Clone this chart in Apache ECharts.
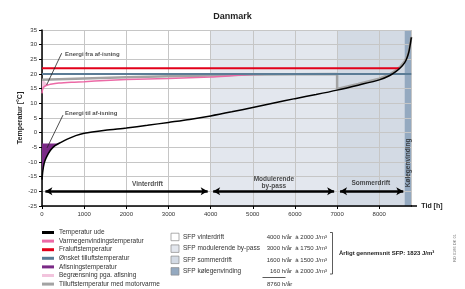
<!DOCTYPE html>
<html><head><meta charset="utf-8">
<script src="https://cdn.jsdelivr.net/npm/echarts@6/dist/echarts.min.js"></script>
<style>html,body{margin:0;padding:0;background:#fff}#c{width:465px;height:289px}</style>
</head><body><div id="c"></div>
<script>
// ---- data ----
const outHours = [0,20,50,100,200,300,450,600,800,1000,1500,2000,2500,3000,3500,4000,4500,5000,5500,6000,6500,7000,7500,8000,8250,8400,8500,8600,8650,8700,8740,8760];
const outTemp  = [-16,-13,-10.5,-8.5,-6,-4.5,-3.3,-2.2,-1,-0.2,0.8,1.6,2.5,3.5,4.5,5.7,7.1,8.6,10.1,11.6,13.0,14.5,16.2,18.0,19.5,20.9,22.1,23.8,25.2,27.4,30.5,32.5];
const pinkHours = [0,10,30,60,100,150,200,400,700,1000,1500,2000,3000,4000,4500,5000,5500,7000];
const pinkTemp  = [13.4,14.5,15.3,15.8,16.1,16.3,16.5,16.9,17.2,17.4,17.8,18.1,18.5,19.0,19.4,19.8,20.0,20.0];
const grayHours = [0,1000,2000,3000,4000,5000,6000,7000,7000,7500,8000,8250,8400,8500,8600,8650,8700,8740,8760];
const grayTemp  = [18,18.5,18.9,19.2,19.5,19.8,19.9,20.0,14.9,16.6,18.4,19.9,21.3,22.5,24.2,25.6,27.8,30.9,32.7];
const redHours = [0,8480];
const redTemp  = [22,22];
const blueHours = [0,8760];
const blueTemp  = [20,20];
const defrostHours = [0,20,50,100,200,300,420];
const defrostTemp  = [-16,-13,-10.5,-8.5,-6,-4.5,-3.7];
const defrostLevel = -3.7;
const limitHours = [0,50,100,150];
const limitTop   = [18,17.6,17.0,16.3];
const phaseStart = [4000,7000,8600];
const phaseEnd   = [7000,8600,8760];
const arrowStart = [80,4060,7070];
const arrowEnd   = [3930,6930,8570];
const phaseNames = ['Vinterdrift','Modulerende\nby-pass','Sommerdrift'];
const phaseLabelPos = [[2500,-17.5],[5500,-17.2],[7800,-17.3]];
const stripLabel = 'Kølegenvinding';
const stripLabelPos = [8680,-10.3];
const noteNames = ['Energi fra af-isning','Energi til af-isning'];
const notePos = [[545,26.8],[545,6.7]];
const leaderFrom = [[467,27.1],[498,6.0]];
const leaderTo = [[111,16.3],[119,-5.2]];
const legendLines = ['Temperatur ude','Varmegenvindingstemperatur','Fraluftstemperatur','Ønsket tilluftstemperatur','Afisningstemperatur','Begrænsning pga. afisning','Tilluftstemperatur med motorvarme'];
const sfpLabels = ['SFP vinterdrift','SFP modulerende by-pass','SFP sommerdrift','SFP kølegenvinding'];
const sfpHours = ['4000 h/år','3000 h/år','1600 h/år','160 h/år'];
const sfpValues = ['2000 J/m³','1750 J/m³','1500 J/m³','2000 J/m³'];
const totalHours = '8760 h/år';
const avgText = 'Årligt gennemsnit SFP: 1823 J/m³';

// ---- styles ----
const C = {black:'#000', pink:'#ec6aa6', red:'#e2001a', blue:'#5b7c96', purple:'#7a2a86', lpink:'#f2c4dd', gray:'#a3a3a3'};
const bgColors = ['#e3e7ee','#d3dae4','#94a9c0'];
const sfpColors = ['#ffffff','#e3e7ee','#d3dae4','#94a9c0'];
const FF = '"Liberation Sans", Arial, sans-serif';
const zip = (a,b)=>a.map((v,i)=>[v,b[i]]);

const chart = echarts.init(document.getElementById('c'), null, {renderer:'canvas'});

const graphic = [
  {type:'line', shape:{x1:411,y1:206,x2:417,y2:206}, style:{stroke:'#000', lineWidth:1.5}, z:10}
];
const rowY = [237, 248.7, 259.9, 271.4];
sfpLabels.forEach((t,i)=>{
  graphic.push({type:'rect', shape:{x:171,y:rowY[i]-3.8,width:8,height:7.5}, style:{fill:sfpColors[i], stroke:'#8a8a8a', lineWidth:0.7}});
  graphic.push({type:'text', x:183, y:rowY[i], style:{text:t, fill:'#333', font:'6.5px '+FF, verticalAlign:'middle'}});
  graphic.push({type:'text', x:327, y:rowY[i], style:{text:sfpHours[i]+'  à '+sfpValues[i], font:'6px '+FF, fill:'#333', align:'right', verticalAlign:'middle'}});
});
graphic.push({type:'polyline', shape:{points:[[330,232.5],[332.5,232.5],[332.5,274],[330,274]]}, style:{stroke:'#333', lineWidth:0.8, fill:null}});
graphic.push({type:'line', shape:{x1:262.5,y1:277.5,x2:285.5,y2:277.5}, style:{stroke:'#333', lineWidth:0.8}});
graphic.push({type:'text', x:267, y:284.5, style:{text:totalHours, font:'6px '+FF, fill:'#333', verticalAlign:'middle'}});
graphic.push({type:'text', x:339, y:253, style:{text:avgText, font:'bold 6px '+FF, fill:'#222', verticalAlign:'middle'}});
graphic.push({type:'text', x:455, y:248, rotation:Math.PI/2, style:{text:'RD 0186 DK 01', font:'4px '+FF, fill:'#777', align:'center', verticalAlign:'middle'}});

const labelData = phaseNames.map((n,i)=>({name:n, value:phaseLabelPos[i], label:{position:'inside'}}))
  .concat([{name:stripLabel, value:stripLabelPos, label:{position:'inside', rotate:90}}])
  .concat(noteNames.map((n,i)=>({name:n, value:notePos[i], label:{position:'right', distance:0, align:'left', fontSize:6}})));

const option = {
  animation:false,
  textStyle:{fontFamily:FF},
  title:{text:'Danmark', left:'center', top:7, textStyle:{fontSize:9, fontWeight:'bold', color:'#222', fontFamily:FF}},
  grid:{left:42, top:30, right:53.7, bottom:83},
  legend:{orient:'vertical', left:42, top:229, padding:0, itemWidth:12, itemHeight:3, itemGap:1.6, icon:'rect',
    textStyle:{fontSize:6.5, color:'#333', lineHeight:7, padding:0, fontFamily:FF}, data:legendLines, selectedMode:false},
  xAxis:{type:'value', min:0, max:8760, interval:1000, z:1,
    name:'Tid [h]', nameLocation:'end', nameGap:10, nameTextStyle:{fontSize:7, fontWeight:'bold', color:'#222', verticalAlign:'middle'},
    axisLine:{show:true, onZero:false, lineStyle:{color:'#000', width:1.5}},
    axisTick:{show:true, length:3, lineStyle:{color:'#000'}},
    axisLabel:{fontSize:6, color:'#333', margin:5, showMaxLabel:false, formatter:v=>String(v)},
    splitLine:{show:true, lineStyle:{color:'#c6c6c6', width:1}}},
  yAxis:{type:'value', min:-25, max:35, interval:5, z:1,
    name:'Temperatur [°C]', nameLocation:'middle', nameRotate:90, nameGap:18, nameMoveOverlap:false,
    nameTextStyle:{fontSize:7, fontWeight:'bold', color:'#222'},
    axisLine:{show:true, lineStyle:{color:'#000', width:1.5}},
    axisTick:{show:true, length:3, lineStyle:{color:'#000'}},
    axisLabel:{fontSize:6, color:'#333', margin:5},
    splitLine:{show:true, lineStyle:{color:'#c6c6c6', width:1}}},
  graphic,
  series:[
    {type:'custom', name:'bg', z:0, silent:true,
      data: phaseStart.map((s,i)=>[s, phaseEnd[i], -25, 35]),
      encode:{x:[0,1], y:[2,3]},
      renderItem:(params, api)=>{
        const p0 = api.coord([api.value(0), api.value(3)]);
        const p1 = api.coord([api.value(1), api.value(2)]);
        return {type:'rect', shape:{x:p0[0], y:p0[1], width:p1[0]-p0[0], height:p1[1]-p0[1]}, style:{fill:bgColors[params.dataIndex]}};
      }},
    {type:'custom', name:'Begrænsning pga. afisning', z:2, itemStyle:{color:C.lpink},
      data: zip(limitHours, limitTop), encode:{x:0, y:1},
      renderItem:(params, api)=>{
        if (params.dataIndex !== 0) return null;
        const top = zip(limitHours, limitTop);
        const low = zip(pinkHours, pinkTemp).filter(p=>p[0] <= limitHours[limitHours.length-1]).reverse();
        return {type:'polygon', shape:{points: top.concat(low).map(p=>api.coord(p))}, style:{fill:C.lpink}};
      }},
    {type:'custom', name:'Afisningstemperatur', z:2, itemStyle:{color:C.purple},
      data: zip(defrostHours, defrostTemp), encode:{x:0, y:1},
      renderItem:(params, api)=>{
        if (params.dataIndex !== 0) return null;
        const pts = zip(defrostHours, defrostTemp).concat([[defrostHours[0], defrostLevel]]);
        return {type:'polygon', shape:{points: pts.map(p=>api.coord(p))}, style:{fill:C.purple}};
      }},
    {type:'line', name:'Tilluftstemperatur med motorvarme', data:zip(grayHours, grayTemp), showSymbol:false, color:C.gray, lineStyle:{color:C.gray, width:2.5}},
    {type:'line', name:'Varmegenvindingstemperatur', data:zip(pinkHours, pinkTemp), showSymbol:false, smooth:0.3, color:C.pink, lineStyle:{color:C.pink, width:1.5}},
    {type:'line', name:'Ønsket tilluftstemperatur', data:zip(blueHours, blueTemp), showSymbol:false, color:C.blue, lineStyle:{color:C.blue, width:2}},
    {type:'line', name:'Fraluftstemperatur', data:zip(redHours, redTemp), showSymbol:false, color:C.red, lineStyle:{color:C.red, width:2}},
    {type:'line', name:'Temperatur ude', data:zip(outHours, outTemp), showSymbol:false, smooth:0.25, color:C.black, lineStyle:{color:C.black, width:1.5}},
    {type:'line', name:'arrows', data:[], silent:true,
      markLine:{silent:true, symbol:['arrow','arrow'], symbolSize:[6,7], label:{show:false},
        lineStyle:{color:'#000', width:2.5, type:'solid'},
        data: arrowStart.map((s,i)=>[{coord:[s,-20]},{coord:[arrowEnd[i],-20]}])}},
    ...leaderFrom.map((f,i)=>({type:'line', name:'leader'+i, data:[f, leaderTo[i]], showSymbol:false, silent:true, lineStyle:{color:'#222', width:0.8}})),
    {type:'scatter', name:'labels', symbolSize:0, silent:true, z:5, data:labelData,
      label:{show:true, formatter:'{b}', fontSize:6.5, fontWeight:'bold', color:'#222', lineHeight:7, align:'center'}}
  ]
};
chart.setOption(option);
</script></body></html>
